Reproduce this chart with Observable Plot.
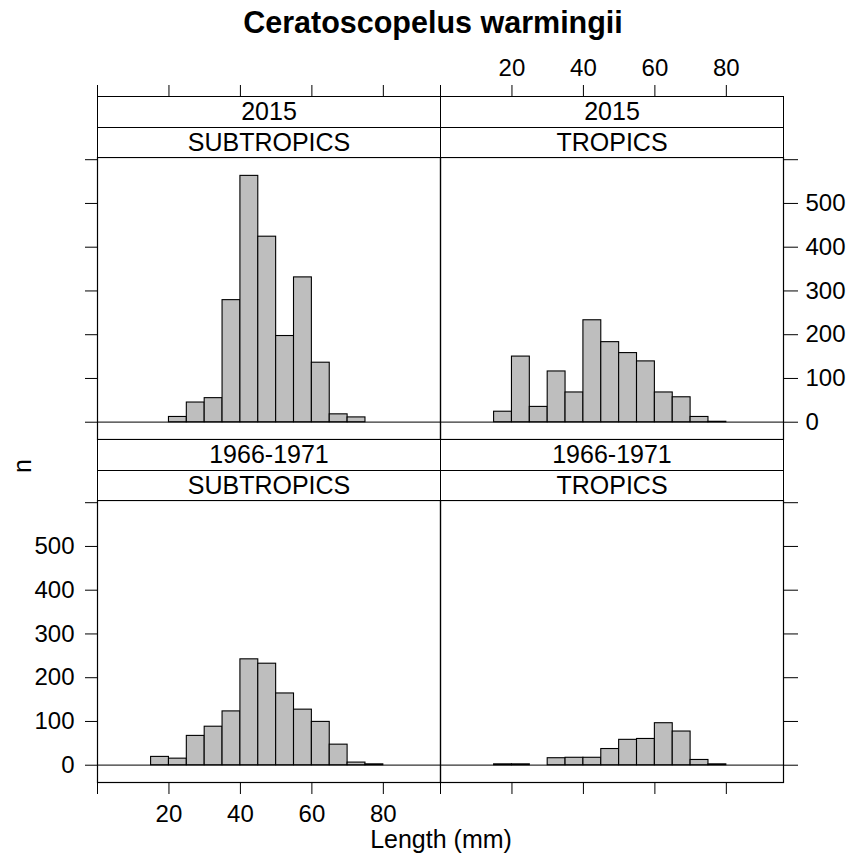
<!DOCTYPE html>
<html><head><meta charset="utf-8">
<script src="https://cdn.jsdelivr.net/npm/d3@7"></script>
<script src="https://cdn.jsdelivr.net/npm/@observablehq/plot@0.6"></script>
<style>
body{margin:0;background:#fff;font-family:"Liberation Sans",Arial,sans-serif;}
#root{position:relative;width:850px;height:860px;overflow:hidden;background:#fff;}
.strip{position:absolute;box-sizing:border-box;border:1px solid #000;background:#fff;text-align:center;font-size:25px;color:#000;white-space:nowrap;}
.lbl{position:absolute;white-space:nowrap;color:#000;line-height:1;}
</style></head><body><div id="root"></div>
<script>
// ---- data ----
const title = "Ceratoscopelus warmingii";
const xLabel = "Length (mm)";
const yLabel = "n";
const periods = ["2015", "1966-1971"];
const regions = ["SUBTROPICS", "TROPICS"];
const binStart = [15, 20, 25, 30, 35, 40, 45, 50, 55, 60, 65, 70, 75];
const binWidth = 5;
const n2015Subtropics = [0, 12, 45, 55, 279, 563, 424, 197, 331, 136, 18, 11, 0];
const n2015Tropics = [24, 150, 35, 116, 68, 233, 183, 158, 139, 68, 57, 12, 1];
const n1966Subtropics = [19, 15, 67, 88, 123, 242, 232, 164, 127, 99, 47, 6, 2];
const n1966Tropics = [2, 2, 0, 16, 17, 17, 37, 58, 60, 96, 77, 12, 2];
const xTicks = [0, 20, 40, 60, 80];
const yTicks = [0, 100, 200, 300, 400, 500, 600];
const xDomain = [0, 96];
const yDomain = [-39.5, 605];

// ---- layout ----
const root = document.getElementById("root");
const PW = 343, PH = 282;
const colLeft = [97, 440];
const rowTop = [157, 500];
const stripH = 30.5;

function rowsFor(counts) {
  return binStart.map((x, i) => ({x1: x, x2: x + binWidth, n: counts[i]})).filter(d => d.n > 0);
}

function panel(counts, col, row) {
  const left = colLeft[col], top = rowTop[row];
  const showTop = row === 0, showBottom = row === 1, showLeft = col === 0, showRight = col === 1;
  const labelTop = showTop && col === 1, labelBottom = showBottom && col === 0;
  const labelLeft = showLeft && row === 1, labelRight = showRight && row === 0;
  const mT = showTop ? 110 : 2, mB = showBottom ? 50 : 2, mL = showLeft ? 95 : 2, mR = showRight ? 67 : 2;
  const marks = [
    Plot.ruleY([0], {stroke: "#333", strokeWidth: 1.2}),
    Plot.rectY(rowsFor(counts), {x1: "x1", x2: "x2", y: "n", fill: "#bebebe", stroke: "#000", strokeWidth: 1.1}),
    Plot.frame({stroke: "#000", strokeWidth: 1.2})
  ];
  if (showTop) marks.push(Plot.axisX({anchor: "top", ticks: xTicks, tickSize: 2 * stripH + 12, tickPadding: 9, label: null,
    tickFormat: d => (labelTop && d !== 0) ? String(d) : ""}));
  if (showBottom) marks.push(Plot.axisX({anchor: "bottom", ticks: xTicks, tickSize: 12, tickPadding: 10, label: null,
    tickFormat: d => (labelBottom && d !== 0) ? String(d) : ""}));
  if (showLeft) marks.push(Plot.axisY({anchor: "left", ticks: yTicks, tickSize: 12, tickPadding: 11, label: null,
    tickFormat: d => (labelLeft && d !== 600) ? String(d) : ""}));
  if (showRight) marks.push(Plot.axisY({anchor: "right", ticks: yTicks, tickSize: 14, tickPadding: 8, label: null,
    tickFormat: d => (labelRight && d !== 600) ? String(d) : ""}));
  const svg = Plot.plot({
    width: PW + mL + mR, height: PH + mT + mB,
    marginTop: mT, marginBottom: mB, marginLeft: mL, marginRight: mR,
    x: {domain: xDomain},
    y: {domain: yDomain},
    style: {background: "none", overflow: "visible", fontSize: "24px", fontFamily: "'Liberation Sans', Arial, sans-serif", color: "#000", maxWidth: "none"},
    marks
  });
  svg.style.position = "absolute";
  svg.style.left = (left - mL) + "px";
  svg.style.top = (top - mT) + "px";
  root.appendChild(svg);
}

panel(n2015Subtropics, 0, 0);
panel(n2015Tropics, 1, 0);
panel(n1966Subtropics, 0, 1);
panel(n1966Tropics, 1, 1);

// strips
for (let r = 0; r < 2; r++) {
  for (let c = 0; c < 2; c++) {
    const labels = [periods[r], regions[c]];
    labels.forEach((t, k) => {
      const d = document.createElement("div");
      d.className = "strip";
      const y = rowTop[r] - (2 - k) * stripH;
      d.style.left = colLeft[c] + "px";
      d.style.top = y + "px";
      d.style.width = (PW + 1) + "px";
      d.style.height = (stripH + 1) + "px";
      d.style.lineHeight = (stripH - 1) + "px";
      d.textContent = t;
      root.appendChild(d);
    });
  }
}

// title & axis labels
const t = document.createElement("div");
t.className = "lbl";
t.style.cssText += "left:0;width:866px;text-align:center;top:7px;font-size:30.5px;font-weight:bold;";
t.textContent = title;
root.appendChild(t);

const xl = document.createElement("div");
xl.className = "lbl";
xl.style.cssText += "left:0;width:882px;text-align:center;top:827px;font-size:25px;";
xl.textContent = xLabel;
root.appendChild(xl);

const yl = document.createElement("div");
yl.className = "lbl";
yl.style.cssText += "left:22px;top:466px;font-size:25px;transform:translate(-50%,-50%) rotate(-90deg);";
yl.textContent = yLabel;
root.appendChild(yl);
</script>
</body></html>
